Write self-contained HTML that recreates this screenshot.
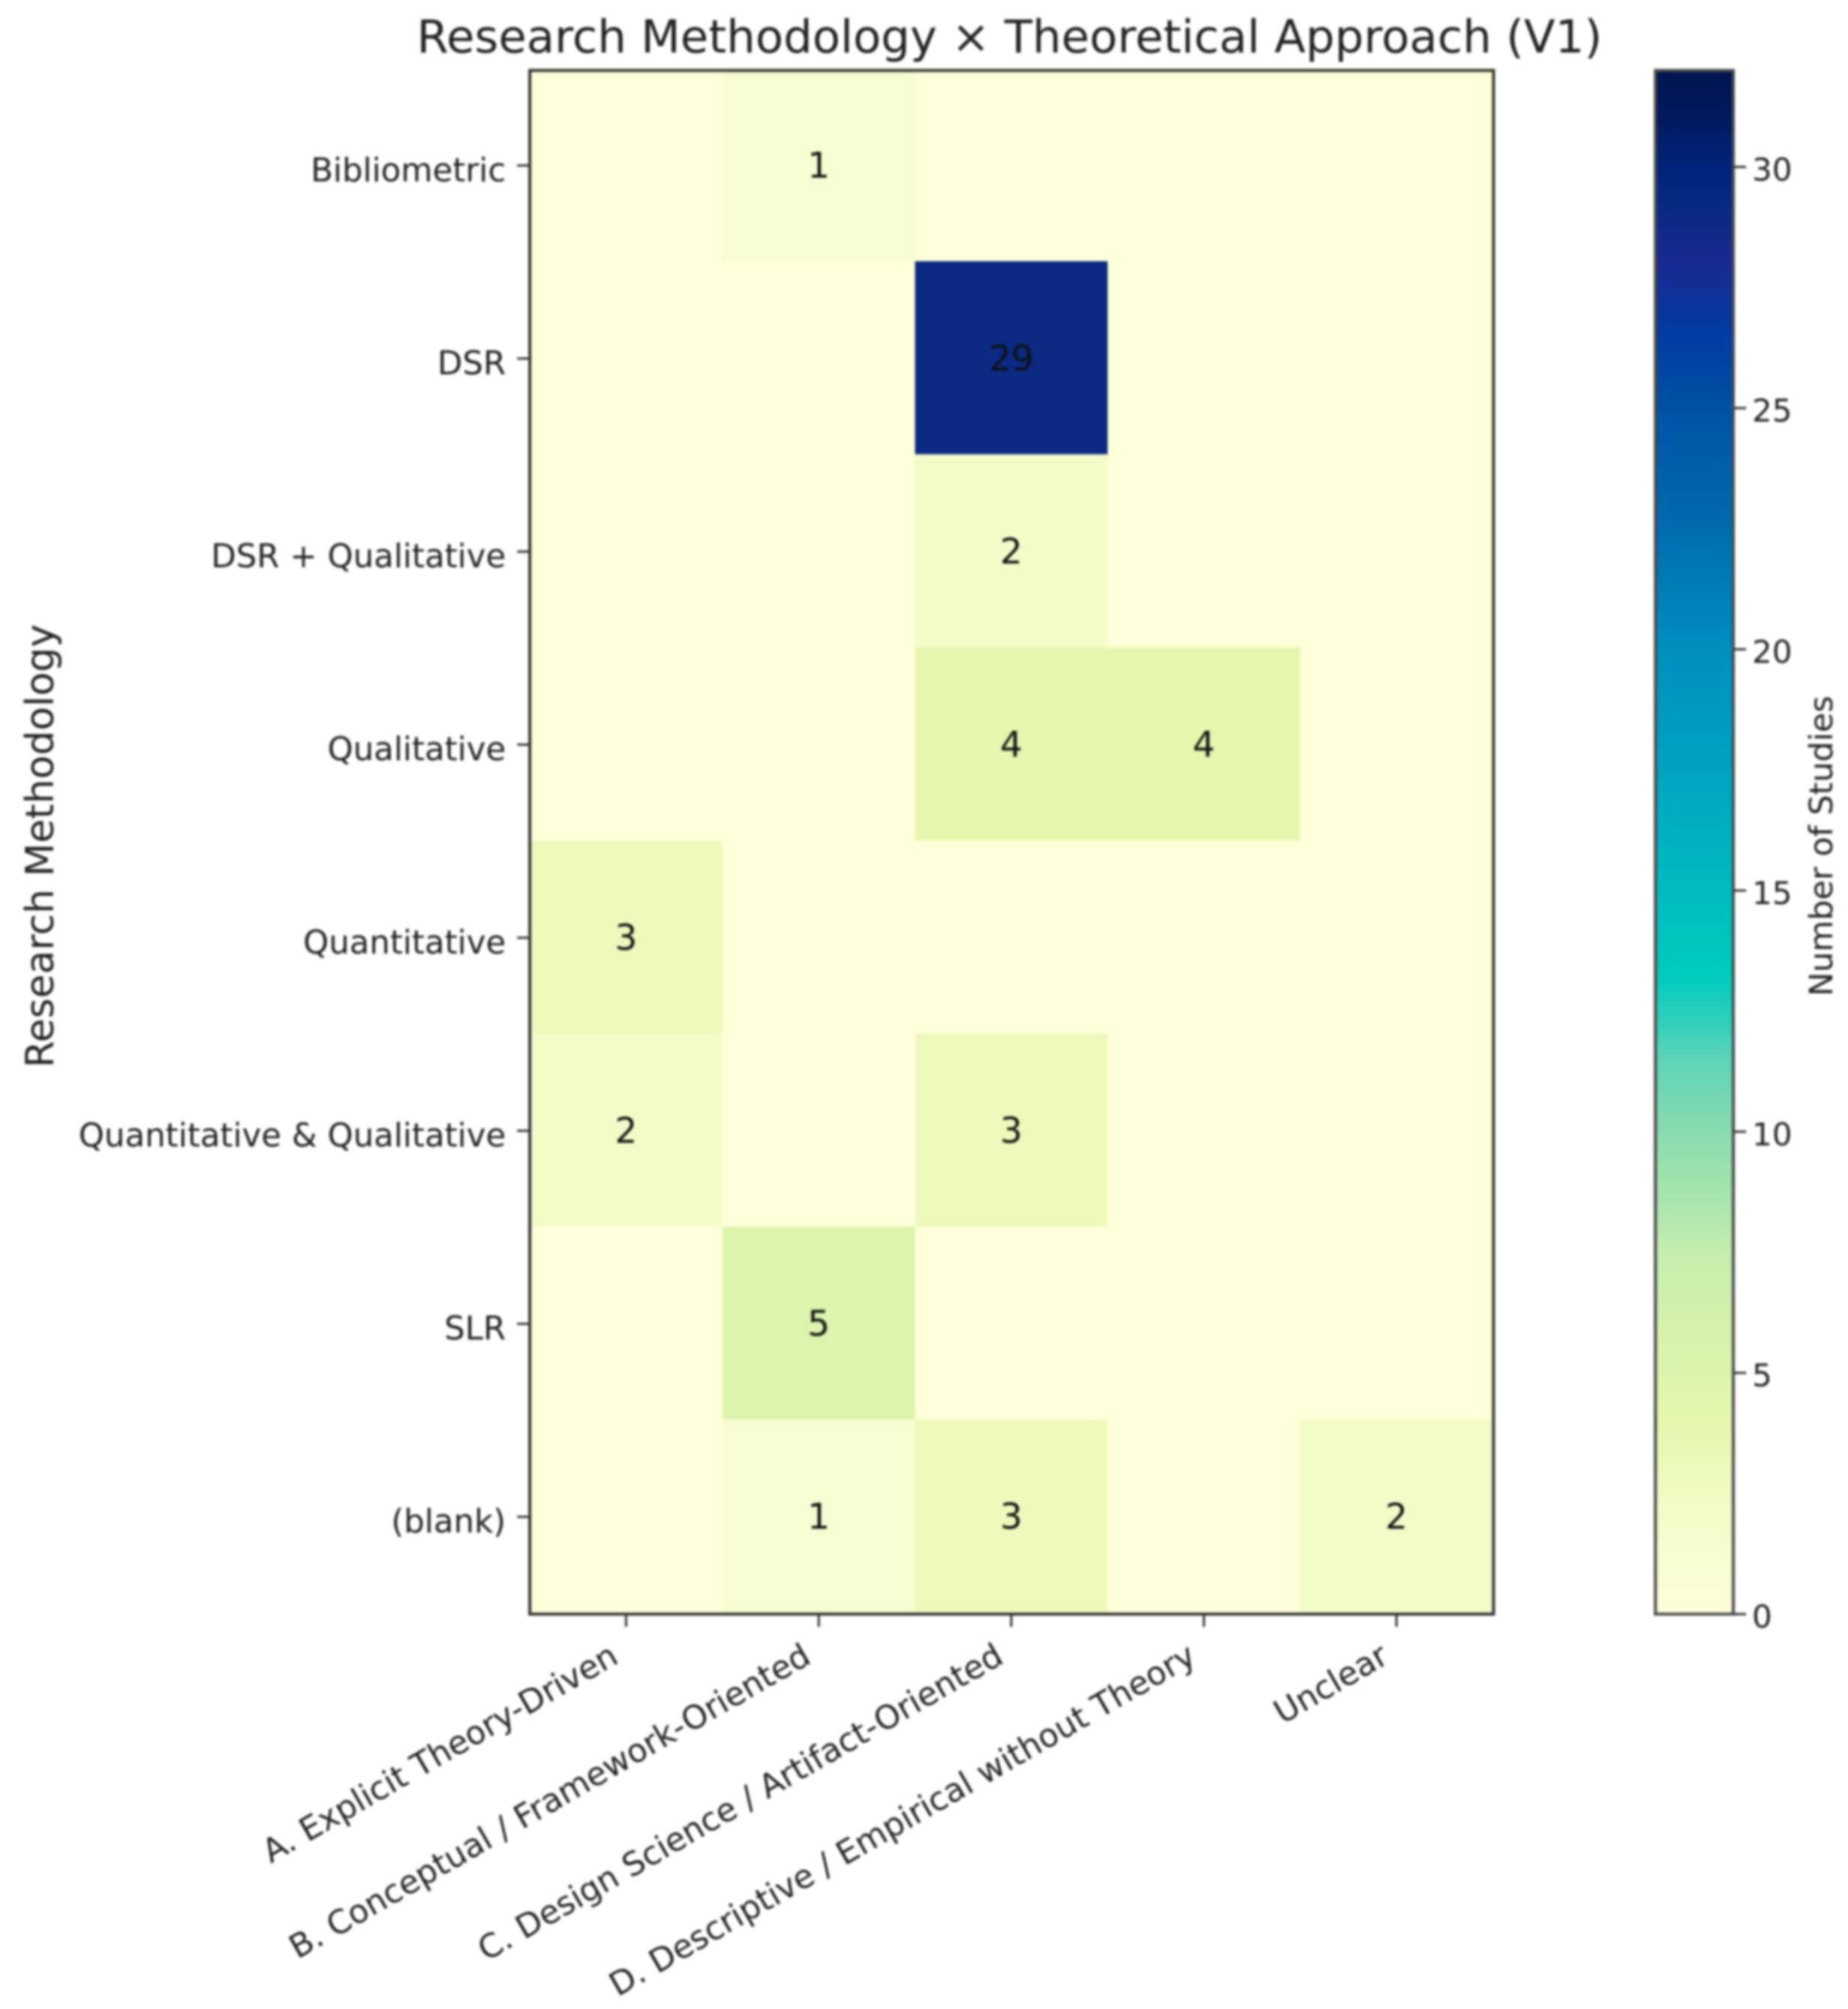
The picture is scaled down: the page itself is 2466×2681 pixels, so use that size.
<!DOCTYPE html>
<html lang="en">
<head>
<meta charset="utf-8">
<title>Research Methodology × Theoretical Approach (V1)</title>
<style>
  html, body { margin: 0; padding: 0; background: #ffffff; }
  body { width: 2466px; height: 2681px; overflow: hidden; }
  svg { display: block; filter: blur(1.7px); }
  text { font-family: "DejaVu Sans", "Liberation Sans", sans-serif; fill: #222222; }
</style>
</head>
<body>
<svg id="chart" xmlns="http://www.w3.org/2000/svg" width="2466" height="2681" viewBox="0 0 2466 2681">
  <rect x="0" y="0" width="2466" height="2681" fill="#ffffff"/>
  <text x="1347" y="70" text-anchor="middle" font-size="61">Research Methodology × Theoretical Approach (V1)</text>
  <text transform="translate(71 1129) rotate(-90)" text-anchor="middle" font-size="52">Research Methodology</text>
  <text transform="translate(2445 1129) rotate(-90)" text-anchor="middle" font-size="43">Number of Studies</text>
  <g id="cells"></g>
  <g id="annotations"></g>
  <rect x="707" y="94" width="1286" height="2060" fill="none" stroke="#333333" stroke-width="4"/>
  <g id="xticks"></g>
  <g id="yticks"></g>
  <defs>
    <linearGradient id="cbGradient" gradientUnits="userSpaceOnUse" x1="0" y1="2154" x2="0" y2="94"></linearGradient>
  </defs>
  <rect id="cbBar" x="2209" y="94" width="104" height="2060" fill="url(#cbGradient)" stroke="#4a4a4a" stroke-width="4"/>
  <g id="cbticks"></g>
</svg>
<script>
const methodologies = ["Bibliometric", "DSR", "DSR + Qualitative", "Qualitative", "Quantitative", "Quantitative & Qualitative", "SLR", "(blank)"];
const approaches = ["A. Explicit Theory-Driven", "B. Conceptual / Framework-Oriented", "C. Design Science / Artifact-Oriented", "D. Descriptive / Empirical without Theory", "Unclear"];
const countsBibliometric = [0, 1, 0, 0, 0];
const countsDSR = [0, 0, 29, 0, 0];
const countsDSRQualitative = [0, 0, 2, 0, 0];
const countsQualitative = [0, 0, 4, 4, 0];
const countsQuantitative = [3, 0, 0, 0, 0];
const countsMixed = [2, 0, 3, 0, 0];
const countsSLR = [0, 5, 0, 0, 0];
const countsBlank = [0, 1, 3, 0, 2];
const counts = [countsBibliometric, countsDSR, countsDSRQualitative, countsQualitative, countsQuantitative, countsMixed, countsSLR, countsBlank];
const colorbarTicks = [0, 5, 10, 15, 20, 25, 30];
const colorbarMax = 32;
const colormapValues = [0, 1, 2, 4, 5, 7.5, 8.5, 10, 11.5, 13.2, 15, 17, 20, 22.5, 25, 26.5, 28, 29, 30, 31, 32];
const colormapColors = ["#ffffd9", "#f8fdd1", "#f3fcc9", "#e6f7af", "#dcf5ad", "#c6eeae", "#aae6ae", "#8adcaf", "#5dd4b8", "#00cbbd", "#00bcc0", "#00a8c2", "#008fbf", "#006cb0", "#0052a6", "#003ca0", "#1a2a94", "#0a2a84", "#00247a", "#001a60", "#00144f"];

const NS = "http://www.w3.org/2000/svg";
const plot = { left: 707, right: 1992, top: 91, bottom: 2152 };
const bar = { left: 2209, right: 2313, top: 94, bottom: 2154 };

function xBand(i) { return plot.left + i * (plot.right - plot.left) / approaches.length; }
function yBand(i) { return plot.top + i * (plot.bottom - plot.top) / methodologies.length; }
function xCenter(i) { return xBand(i + 0.5); }
function yCenter(i) { return yBand(i + 0.5); }
function cbY(v) { return bar.bottom - v / colorbarMax * (bar.bottom - bar.top); }

function hexToRgb(h) {
  return [parseInt(h.slice(1, 3), 16), parseInt(h.slice(3, 5), 16), parseInt(h.slice(5, 7), 16)];
}
function colorFor(v) {
  const vals = colormapValues;
  if (v <= vals[0]) return colormapColors[0];
  for (let i = 1; i < vals.length; i++) {
    if (v <= vals[i]) {
      const t = (v - vals[i - 1]) / (vals[i] - vals[i - 1]);
      const a = hexToRgb(colormapColors[i - 1]);
      const b = hexToRgb(colormapColors[i]);
      return "rgb(" + a.map((c, k) => Math.round(c + (b[k] - c) * t)).join(",") + ")";
    }
  }
  return colormapColors[colormapColors.length - 1];
}
function make(parent, tag, attrs, txt) {
  const el = document.createElementNS(NS, tag);
  for (const k in attrs) el.setAttribute(k, attrs[k]);
  if (txt !== undefined) el.textContent = txt;
  document.getElementById(parent).appendChild(el);
  return el;
}

counts.forEach((row, r) => {
  row.forEach((v, c) => {
    const cell = make("cells", "rect", {
      x: xBand(c), y: yBand(r),
      width: xBand(c + 1) - xBand(c) + 0.5,
      height: yBand(r + 1) - yBand(r) + 0.5,
      fill: colorFor(v)
    });
    
    
    if (v > 0) {
      const label = make("annotations", "text", {
        x: xCenter(c), y: yCenter(r) + 17,
        "text-anchor": "middle", "font-size": 47, style: "fill:#111"
      }, String(v));
      
      
    }
  });
});

approaches.forEach((name, i) => {
  const x = xCenter(i);
  const tick = make("xticks", "line", { x1: x, x2: x, y1: 2154, y2: 2171, stroke: "#333", "stroke-width": 3 });
  
  
  const label = make("xticks", "text", {
    transform: "translate(" + (x - 8) + " 2218) rotate(-30)",
    "text-anchor": "end", "font-size": 43.5
  }, name);
  
  
});

methodologies.forEach((name, i) => {
  const y = yCenter(i) + 1;
  const tick = make("yticks", "line", { x1: plot.left - 17, x2: plot.left, y1: y, y2: y, stroke: "#333", "stroke-width": 3 });
  
  
  const label = make("yticks", "text", {
    x: 675, y: y + 21, "text-anchor": "end", "font-size": 43.5
  }, name);
  
  
});

colormapValues.forEach((v, i) => {
  const stop = make("cbGradient", "stop", { offset: v / colorbarMax, "stop-color": colormapColors[i] });
  
  
});

colorbarTicks.forEach((v) => {
  const y = cbY(v);
  const tick = make("cbticks", "line", { x1: bar.right, x2: bar.right + 17, y1: y, y2: y, stroke: "#333", "stroke-width": 3 });
  
  
  const label = make("cbticks", "text", {
    x: 2338, y: y + 18, "text-anchor": "start", "font-size": 42
  }, String(v));
  
  
});
</script>
</body>
</html>
